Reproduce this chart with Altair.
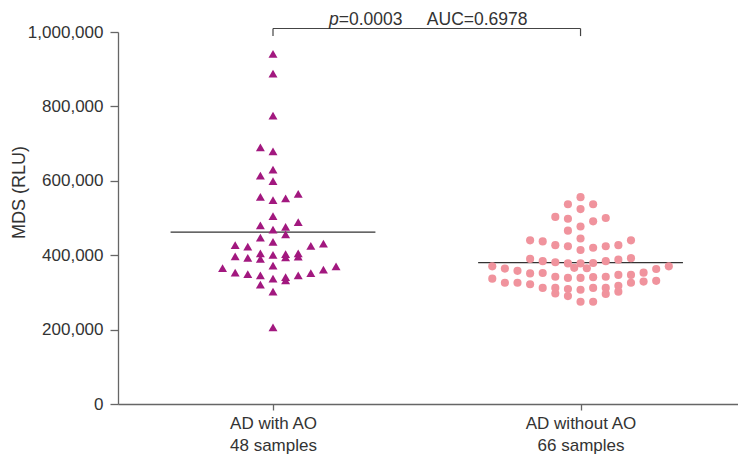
import altair as alt
import pandas as pd

# ---- data ----
groups = ["AD with AO", "AD without AO"]
samples = ["48 samples", "66 samples"]

with_ao_values = [941000, 888000, 775000, 690000, 679000, 630000, 614000, 599000,
                  557000, 548000, 553000, 565000, 505000, 480000, 469000, 476000,
                  489000, 447000, 456000, 436000, 427000, 423000, 425000, 431000,
                  397000, 393000, 405000, 390000, 401000, 403000, 394000, 405000,
                  396000, 372000, 365000, 353000, 349000, 346000, 337000, 341000,
                  332000, 346000, 352000, 361000, 370000, 321000, 302000, 206000]
with_ao_cols = [0, 0, 0, -1, 0, 0, -1, 0,
                -1, 0, 1, 2, 0, -1, 0, 1,
                2, -1, 1, 0, -3, -2, 3, 4,
                -3, -2, -1, -1, 0, 1, 1, 2,
                2, 0, -4, -3, -2, -1, 0, 1,
                1, 2, 3, 4, 5, -1, 0, 0]

without_ao_values = [556000, 537000, 537000, 524000, 503000, 498000, 491000, 500000,
                     477000, 466000, 445000, 440000, 437000, 427000, 424000, 414000,
                     420000, 424000, 427000, 440000, 390000, 384000, 381000, 378000,
                     366000, 378000, 365000, 379000, 384000, 388000, 392000, 370000,
                     364000, 358000, 351000, 352000, 342000, 339000, 339000, 341000,
                     342000, 347000, 347000, 353000, 363000, 370000, 337000, 326000,
                     326000, 322000, 312000, 312000, 297000, 309000, 290000, 307000,
                     312000, 312000, 296000, 318000, 302000, 326000, 329000, 331000,
                     275000, 275000]
without_ao_cols = [0, -1, 1, 0, -2, -1, 1, 2,
                   0, -1, 0, -4, -3, -2, -1, 0,
                   1, 2, 3, 4, -4, -3, -2, -1,
                   -0.5, 0, 0.5, 1, 2, 3, 4, -7,
                   -6, -5, -4, -3, -2, -1, 0, 1,
                   2, 3, 4, 5, 6, 7, -7, -6,
                   -5, -4, -3, -2, -2, -1, -1, 0,
                   1, 2, 2, 3, 3, 4, 5, 6,
                   0, 1]

means = [462000, 380000]
y_ticks = [0, 200000, 400000, 600000, 800000, 1000000]
p_text = "p"
stat_text = "=0.0003\u00a0\u00a0\u00a0\u00a0\u00a0AUC=0.6978"

# ---- build tables ----
STEP = 0.041
g1 = pd.DataFrame({"x": [1 + c * STEP for c in with_ao_cols], "y": with_ao_values})
g2 = pd.DataFrame({"x": [2 + c * STEP for c in without_ao_cols], "y": without_ao_values})
mean_df = pd.DataFrame({"x": [1 - 0.333, 2 - 0.333], "x2": [1 + 0.333, 2 + 0.333], "y": means})
bracket_h = pd.DataFrame({"x": [1], "x2": [2], "y": [1009400]})
bracket_v = pd.DataFrame({"x": [1, 2], "y": [989000, 989000], "y2": [1009400, 1009400]})
txt = pd.DataFrame({"x": [1.5], "y": [1017500], "p": [p_text], "s": [stat_text]})

label_expr = (
    f"datum.value == 1 ? ['{groups[0]}', '{samples[0]}'] : "
    f"(datum.value == 2 ? ['{groups[1]}', '{samples[1]}'] : '')"
)

xscale = alt.Scale(domain=[0.496, 2.512], nice=False, zero=False)
yscale = alt.Scale(domain=[0, 1000000], nice=False)

x_axis = alt.Axis(values=[1, 2], labelExpr=label_expr, title=None, grid=False,
                  tickSize=6, labelPadding=5, labelLineHeight=22, labelFontSize=17)
y_axis = alt.Axis(values=y_ticks, labelExpr="format(datum.value, ',')",
                  title="MDS (RLU)", grid=False, tickSize=8, labelPadding=7,
                  labelFontSize=17, titleFontSize=18, titleFontWeight="normal",
                  titleX=-90, titleY=160, titleBaseline="bottom")

X = alt.X("x:Q", scale=xscale, axis=x_axis)
Y = alt.Y("y:Q", scale=yscale, axis=y_axis)

tri = alt.Chart(g1).mark_point(shape="triangle-up", filled=True, size=80,
                               color="#a2187f", opacity=1).encode(x=X, y=Y)
circ = alt.Chart(g2).mark_circle(size=66, color="#f0939d", opacity=1).encode(x=X, y=Y)
mean_rules = alt.Chart(mean_df).mark_rule(color="#333333", strokeWidth=1.3).encode(
    x=X, x2="x2:Q", y=Y)
br_h = alt.Chart(bracket_h).mark_rule(color="#444444", strokeWidth=1.2).encode(
    x=X, x2="x2:Q", y=Y)
br_v = alt.Chart(bracket_v).mark_rule(color="#444444", strokeWidth=1.2).encode(
    x=X, y=Y, y2="y2:Q")
t_p = alt.Chart(txt).mark_text(align="right", baseline="alphabetic", fontSize=17.5,
                               fontStyle="italic", dx=-88, color="#333333").encode(
    x=X, y=Y, text="p:N")
t_s = alt.Chart(txt).mark_text(align="left", baseline="alphabetic", fontSize=17.5,
                               dx=-88, color="#333333").encode(
    x=X, y=Y, text="s:N")

chart = alt.layer(mean_rules, circ, tri, br_h, br_v, t_p, t_s).properties(
    width=620, height=372,
    autosize=alt.AutoSizeParams(type="none"),
    padding={"left": 110, "top": 24, "right": 0, "bottom": 50},
).configure_view(stroke=None).configure_axis(
    domainColor="#666666", tickColor="#666666", labelColor="#333333",
    titleColor="#333333", labelFont="Liberation Sans", titleFont="Liberation Sans",
    domainWidth=1.3, tickWidth=1.3,
).configure_text(font="Liberation Sans")

chart.save("out.html", embed_options={"renderer": "svg", "actions": False})
